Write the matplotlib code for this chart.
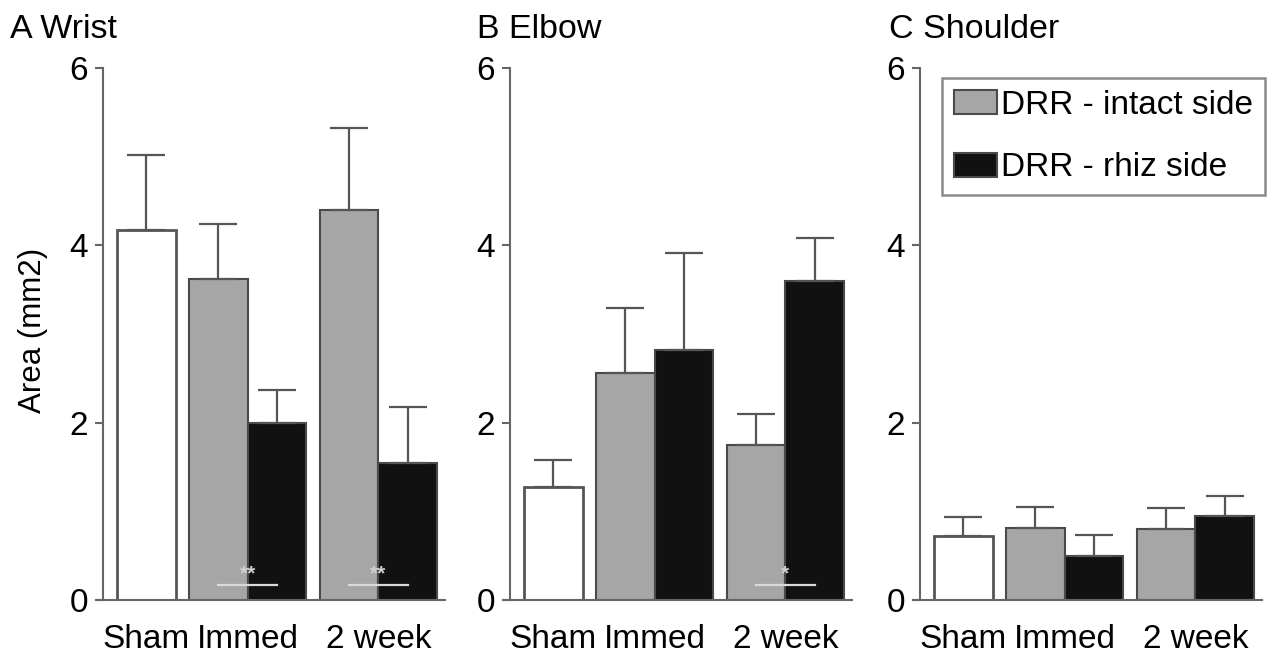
import matplotlib
matplotlib.use("Agg")
import matplotlib.pyplot as plt
from matplotlib.patches import Patch

plt.rcParams['font.family'] = ['Liberation Sans', 'DejaVu Sans']

# mean area (mm2) and upper SEM per joint
panels = ['A Wrist', 'B Elbow', 'C Shoulder']
sham = [4.17, 1.28, 0.72]
sham_err = [0.85, 0.30, 0.22]
intact = [[3.62, 4.40], [2.56, 1.75], [0.81, 0.80]]
intact_err = [[0.62, 0.92], [0.73, 0.35], [0.24, 0.24]]
rhiz = [[2.00, 1.55], [2.82, 3.60], [0.50, 0.95]]
rhiz_err = [[0.37, 0.63], [1.09, 0.48], [0.23, 0.22]]
group_labels = ['Sham', 'Immed', '2 week']
# significance marks (intact vs rhiz) per panel, one per time point
stars = [['**', '**'], ['', '*'], ['', '']]

GRAY = '#a6a6a6'
BLACK = '#111111'
EDGE = '#4a4a4a'
AXC = '#666666'

W, H = 1278, 661
fig = plt.figure(figsize=(W / 100, H / 100), dpi=100)

# bar layout
bw = 0.98
sham_x = 0.72
pair_x = [1.92, 4.10]
ax_lefts = [96, 503, 913]

for i, name in enumerate(panels):
    ax = fig.add_axes([ax_lefts[i] / W, 61 / H, 349 / W, 532 / H])
    ax.set_xlim(-0.12, 5.7)
    ax.set_ylim(0, 6)

    ax.bar(sham_x, sham[i], bw, color='white', edgecolor='#555555', linewidth=2)
    ax.errorbar(sham_x, sham[i], yerr=[[0], [sham_err[i]]], fmt='none',
                ecolor='#555555', elinewidth=1.6, capsize=14, capthick=1.6)
    for j, gx in enumerate(pair_x):
        bx = gx + bw
        ax.bar(gx, intact[i][j], bw, color=GRAY, edgecolor=EDGE, linewidth=1.5)
        ax.bar(bx, rhiz[i][j], bw, color=BLACK, edgecolor=EDGE, linewidth=1.5)
        ax.errorbar([gx, bx], [intact[i][j], rhiz[i][j]],
                    yerr=[[0, 0], [intact_err[i][j], rhiz_err[i][j]]], fmt='none',
                    ecolor='#555555', elinewidth=1.6, capsize=14, capthick=1.6)
        if stars[i][j]:
            ax.plot([gx, bx], [0.17, 0.17], color='#d9d9d9', lw=1.6)
            ax.text((gx + bx) / 2, 0.19, stars[i][j], color='#d0d0d0',
                    fontsize=15, ha='center', va='bottom', fontweight='bold')

    ax.set_xticks([sham_x, pair_x[0] + bw / 2, pair_x[1] + bw / 2])
    ax.set_xticklabels(group_labels)
    ax.set_yticks([0, 2, 4, 6])
    ax.tick_params(axis='x', length=0, pad=17, labelsize=24)
    ax.tick_params(axis='y', length=6, width=1.5, color=AXC, pad=5, labelsize=24)
    for s in ['top', 'right']:
        ax.spines[s].set_visible(False)
    ax.spines['left'].set_position(('data', 0))
    ax.spines['left'].set_color(AXC)
    ax.spines['bottom'].set_color(AXC)
    ax.spines['left'].set_linewidth(1.5)
    ax.spines['bottom'].set_linewidth(1.5)
    ax.set_facecolor('none')

    if i == 2:
        handles = [Patch(facecolor=GRAY, edgecolor=EDGE, linewidth=1.5),
                   Patch(facecolor=BLACK, edgecolor=EDGE, linewidth=1.5)]
        leg = ax.legend(handles, ['DRR - intact side', 'DRR - rhiz side'],
                        loc='upper right', bbox_to_anchor=(1265 / W, 1 - 78 / H),
                        bbox_transform=fig.transFigure, borderaxespad=0,
                        fontsize=24, fancybox=False, framealpha=1,
                        handlelength=1.3, handleheight=0.75, handletextpad=0.12,
                        labelspacing=0.95, borderpad=0.35)
        leg.get_frame().set_edgecolor('#8a8a8a')
        leg.get_frame().set_linewidth(1.8)

title_x = [10, 477, 889]
for t, x in zip(panels, title_x):
    fig.text(x / W, 1 - 38 / H, t, fontsize=24.5, ha='left', va='baseline')

fig.text(33 / W, 1 - 330 / H, 'Area (mm2)', fontsize=22.5, rotation=90,
         ha='center', va='center')

fig.savefig('out.png', dpi=100)
